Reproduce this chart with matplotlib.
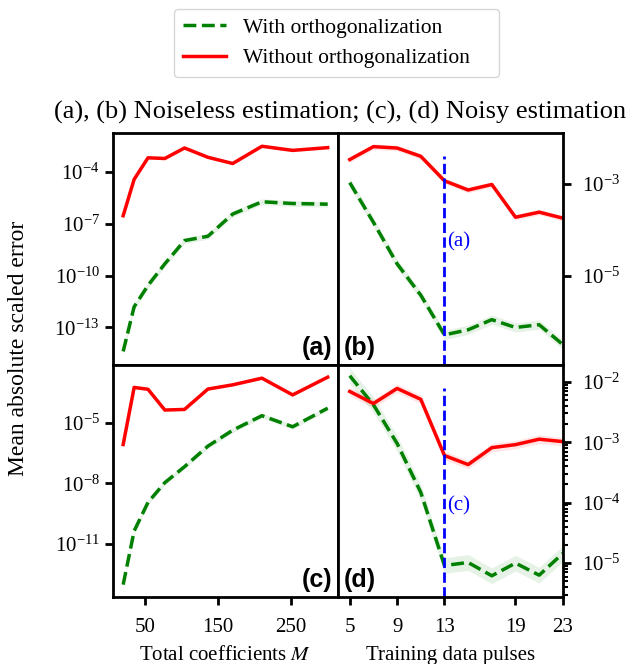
import numpy as np
import matplotlib
matplotlib.use('Agg')
import matplotlib.pyplot as plt
from matplotlib.ticker import NullLocator, LogLocator, LogFormatterSciNotation

plt.rcParams['font.family'] = ['Liberation Serif', 'DejaVu Serif']
plt.rcParams['mathtext.fontset'] = 'stix'

# total coefficients M (panels a, c)
coeffs = [20, 35, 54, 77, 104, 136, 170, 210, 252, 300]
# training data pulses (panels b, d)
pulses = [5, 7, 9, 11, 13, 15, 17, 19, 21, 23]

# mean absolute scaled error, read as log10 values off the picture
a_with = [-14.4, -11.81, -10.57, -9.32, -7.97, -7.72, -6.43, -5.72, -5.82, -5.86]
a_without = [-6.53, -4.42, -3.17, -3.21, -2.6, -3.14, -3.5, -2.5, -2.74, -2.58]
b_with = [-2.98, -3.84, -4.74, -5.42, -6.28, -6.17, -5.95, -6.12, -6.06, -6.49]
b_without = [-2.48, -2.2, -2.23, -2.41, -2.94, -3.14, -3.02, -3.73, -3.62, -3.75]
c_with = [-13.03, -10.37, -8.95, -7.97, -7.18, -6.16, -5.37, -4.65, -5.2, -4.28]
c_without = [-6.08, -3.25, -3.34, -4.37, -4.34, -3.33, -3.12, -2.79, -3.62, -2.74]
d_with = [-1.9, -2.38, -3.02, -3.83, -5.04, -4.99, -5.21, -5.0, -5.2, -4.84]
d_without = [-2.16, -2.36, -2.11, -2.29, -3.22, -3.37, -3.09, -3.04, -2.95, -2.99]

# spread of the shaded band (decades)
band_with = {'a': 0.17, 'b': 0.1, 'c': 0.12, 'd': 0.13}
band_without = {'a': 0.08, 'b': 0.06, 'c': 0.05, 'd': 0.07}

fig = plt.figure(figsize=(6.31, 6.64), dpi=100)
gs = fig.add_gridspec(2, 2, left=0.179, right=0.892, top=0.8, bottom=0.101,
                      wspace=0, hspace=0)
ax_a = fig.add_subplot(gs[0, 0])
ax_b = fig.add_subplot(gs[0, 1])
ax_c = fig.add_subplot(gs[1, 0])
ax_d = fig.add_subplot(gs[1, 1])

panels = [(ax_a, 'a', coeffs, a_with, a_without),
          (ax_b, 'b', pulses, b_with, b_without),
          (ax_c, 'c', coeffs, c_with, c_without),
          (ax_d, 'd', pulses, d_with, d_without)]

for ax, key, x, yw, yo in panels:
    yw = 10 ** np.array(yw)
    yo = 10 ** np.array(yo)
    fw = 10 ** band_with[key]
    fo = 10 ** band_without[key]
    ax.fill_between(x, yo / fo, yo * fo, color='red', alpha=0.1, lw=0)
    ax.fill_between(x, yw / fw, yw * fw, color='green', alpha=0.1, lw=0)
    ax.plot(x, yw, color='green', ls='--', lw=2.5, label='With orthogonalization')
    ax.plot(x, yo, color='red', lw=2.5, label='Without orthogonalization')
    ax.set_yscale('log')
    for s in ax.spines.values():
        s.set_linewidth(2)
    ax.tick_params(width=2, length=6, labelsize=15)
    ax.tick_params(axis='x', pad=9)
    ax.tick_params(which='minor', width=1.5, length=3.5)
    ax.text(0.975 if key in 'ac' else 0.025, 0.02, '(%s)' % key, transform=ax.transAxes,
            ha='right' if key in 'ac' else 'left', va='bottom',
            fontsize=18, fontweight='bold', family='Liberation Sans')

# y ranges and ticks
ax_a.set_ylim(10 ** -15.18, 10 ** -1.72)
ax_a.set_yticks([1e-4, 1e-7, 1e-10, 1e-13])
ax_b.set_ylim(10 ** -6.93, 10 ** -1.9)
ax_b.set_yticks([1e-3, 1e-5])
ax_c.set_ylim(10 ** -13.64, 10 ** -2.13)
ax_c.set_yticks([1e-5, 1e-8, 1e-11])
ax_d.set_ylim(10 ** -5.56, 10 ** -1.72)
ax_d.set_yticks([1e-2, 1e-3, 1e-4, 1e-5])
ax_d.yaxis.set_minor_locator(LogLocator(subs=np.arange(2, 10)))
for ax in [ax_a, ax_b, ax_c]:
    ax.yaxis.set_minor_locator(NullLocator())
for ax in [ax_a, ax_b, ax_c, ax_d]:
    ax.yaxis.set_major_formatter(LogFormatterSciNotation())

for ax in [ax_b, ax_d]:
    ax.yaxis.tick_right()
    ax.tick_params(axis='y', which='major', pad=8)
    ax.set_xlim(4, 23)
    ax.set_xticks([5, 9, 13, 19, 23])
for ax in [ax_a, ax_b]:
    ax.tick_params(axis='x', bottom=False, labelbottom=False)
ax_c.set_xticks([50, 150, 250])
ax_a.set_xlim(ax_c.get_xlim())

ax_b.axvline(13, ymax=0.9, color='blue', ls='--', lw=2)
ax_d.axvline(13, ymax=0.9, color='blue', ls='--', lw=2)
ax_b.text(13.2, 10 ** -4.26, '(a)', color='blue', fontsize=15, va='center')
ax_d.text(13.2, 10 ** -4.06, '(c)', color='blue', fontsize=15, va='center')

ax_c.set_xlabel('Total coefficients $M$', fontsize=15, labelpad=7)
ax_d.set_xlabel('Training data pulses', fontsize=15, labelpad=7)
fig.text(0.03, 0.476, 'Mean absolute scaled error', rotation=90,
         ha='center', va='center', fontsize=17)
fig.text(0.539, 0.831, '(a), (b) Noiseless estimation; (c), (d) Noisy estimation',
         ha='center', va='center', fontsize=19)

h, l = ax_a.get_legend_handles_labels()
fig.legend(h, l, loc='upper left', bbox_to_anchor=(0.276, 0.8825, 0.515, 0.104),
           mode='expand', borderaxespad=0, fontsize=15.5)

fig.savefig('out.png', dpi=100)
